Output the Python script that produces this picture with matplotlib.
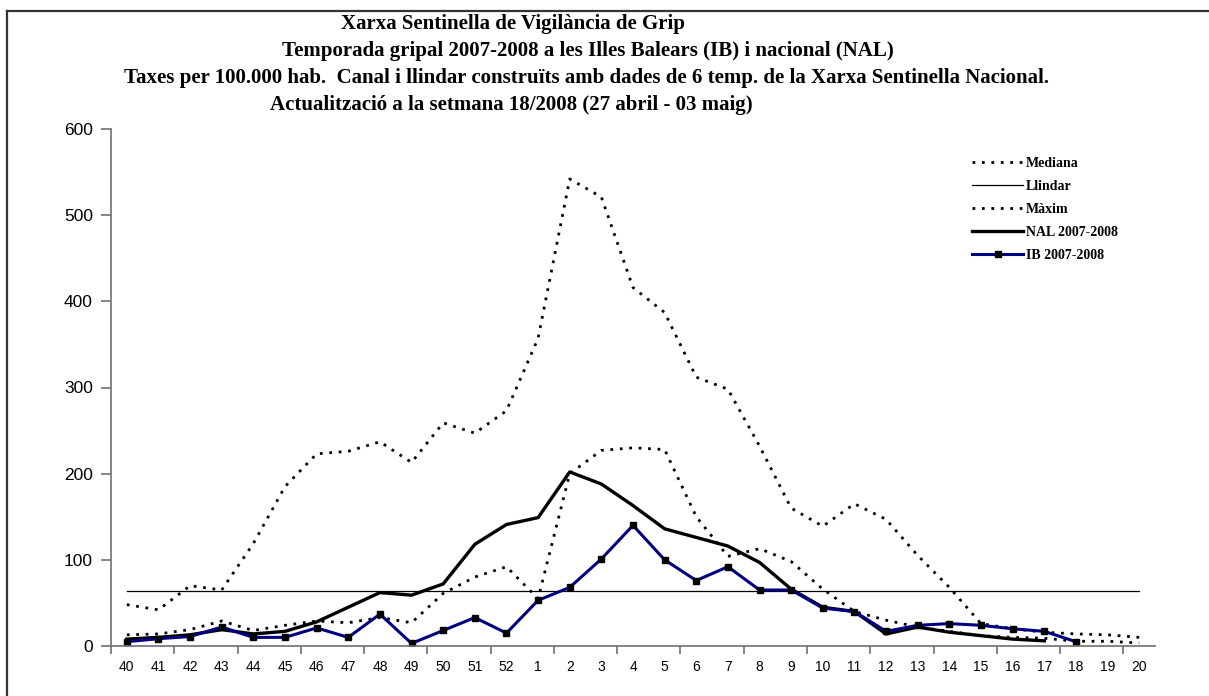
import numpy as np
import matplotlib
matplotlib.use("Agg")
import matplotlib.pyplot as plt
from matplotlib.lines import Line2D

weeks = ["40", "41", "42", "43", "44", "45", "46", "47", "48", "49", "50", "51", "52",
         "1", "2", "3", "4", "5", "6", "7", "8", "9", "10", "11", "12", "13", "14",
         "15", "16", "17", "18", "19", "20"]

mediana = [13, 14, 19, 29, 18, 24, 29, 27, 33, 27, 61, 80, 92,
           55, 200, 227, 230, 228, 150, 104, 113, 98, 66, 40, 30, 22, 17,
           12, 10, 9, 5.5, 5.5, 3.5]
llindar = [64] * 33
maxim = [48, 42, 70, 65, 119, 185, 223, 226, 237, 213, 259, 247, 273,
         357, 542, 521, 416, 387, 312, 298, 232, 160, 139, 165, 147, 105, 68,
         26, 20, 16, 14, 13, 10]
nal = [8, 10, 13, 19, 14, 17, 28, 45, 62, 59, 72, 118, 141,
       149, 202, 188, 163, 136, 126, 116, 97, 66, 45, 40, 14, 22, 16, 12, 8, 6]
ib = [5, 8.5, 11, 22, 10, 10, 21, 10, 37, 3, 18, 33, 15,
      53, 68, 101, 140, 100, 76, 92, 65, 65, 44, 40, 17, 24, 26, 24, 20, 17, 5]

titles = ["Xarxa Sentinella de Vigilància de Grip",
          "Temporada gripal 2007-2008 a les Illes Balears (IB) i nacional (NAL)",
          "Taxes per 100.000 hab.  Canal i llindar construïts amb dades de 6 temp. de la Xarxa Sentinella Nacional.",
          "Actualització a la setmana 18/2008 (27 abril - 03 maig)"]

W, H = 1209, 696
fig = plt.figure(figsize=(W / 100, H / 100), dpi=100)
ax = fig.add_axes([111 / W, 1 - 646 / H, (1155 - 111) / W, (646 - 129) / H])

x = np.arange(len(weeks))
dot = dict(linestyle=(0, (1, 2.4)), color="black", lw=2)
ax.plot(x, mediana, label="Mediana", **dot)
ax.plot(x, llindar, color="black", lw=0.9, label="Llindar")
ax.plot(x, maxim, label="Màxim", **dot)
ax.plot(x[:len(nal)], nal, color="black", lw=2.4, label="NAL 2007-2008")
ax.plot(x[:len(ib)], ib, color="#000080", lw=2.2, marker="s", ms=4.5,
        mfc="black", mec="black", label="IB 2007-2008")

ax.set_xlim(-0.5, len(weeks) - 0.5)
ax.set_ylim(0, 600)
ax.set_yticks(range(0, 601, 100))
ax.set_xticks(np.arange(-0.5, len(weeks) - 1, 2))
ax.set_xticklabels([])
ax.set_xticks(x, weeks, minor=True)
ax.tick_params(axis="x", which="minor", length=0, pad=10, labelsize=10)
ax.tick_params(axis="x", which="major", length=6, color="#707070", width=1.2)
ax.tick_params(axis="y", length=7, color="#707070", width=1.2, labelsize=12.5, pad=6)
for lbl in ax.get_xticklabels(minor=True) + ax.get_yticklabels():
    lbl.set_fontfamily("Liberation Sans")
for s in ("top", "right"):
    ax.spines[s].set_visible(False)
for s in ("left", "bottom"):
    ax.spines[s].set_color("#707070")
    ax.spines[s].set_linewidth(1.2)

leg = ax.legend(loc="upper left", bbox_to_anchor=(972 / W, 1 - 157 / H),
                bbox_transform=fig.transFigure, frameon=False, handlelength=3.7,
                handletextpad=0.2, labelspacing=0.72, borderpad=0, borderaxespad=0,
                prop=dict(family="Liberation Serif", weight="bold", size=10))

# title: size line 3 to span ~124..1052 px, then place the others around it
r = fig.canvas.get_renderer()
probe = fig.text(0, 0, titles[2], fontsize=14, fontweight="bold", family="Liberation Serif")
fs = 14 * 928 / probe.get_window_extent(r).width
probe.remove()
pre = fig.text(0, 0, "Actualització a la setmana 1", fontsize=fs, fontweight="bold",
               family="Liberation Serif")
x4 = 519 - pre.get_window_extent(r).width
pre.remove()

tkw = dict(va="center", fontsize=fs, fontweight="bold", family="Liberation Serif")
fig.text(513 / W, 1 - 24 / H, titles[0], ha="center", **tkw)
fig.text(588 / W, 1 - 51 / H, titles[1], ha="center", **tkw)
fig.text(124 / W, 1 - 78 / H, titles[2], ha="left", **tkw)
fig.text(x4 / W, 1 - 105 / H, titles[3], ha="left", **tkw)

fig.add_artist(Line2D([7 / W, 7 / W], [0, 1 - 11 / H], transform=fig.transFigure,
                      color="#333333", lw=1.6))
fig.add_artist(Line2D([7 / W, 1], [1 - 11 / H, 1 - 11 / H], transform=fig.transFigure,
                      color="#333333", lw=1.6))

fig.savefig("out.png", dpi=100)
